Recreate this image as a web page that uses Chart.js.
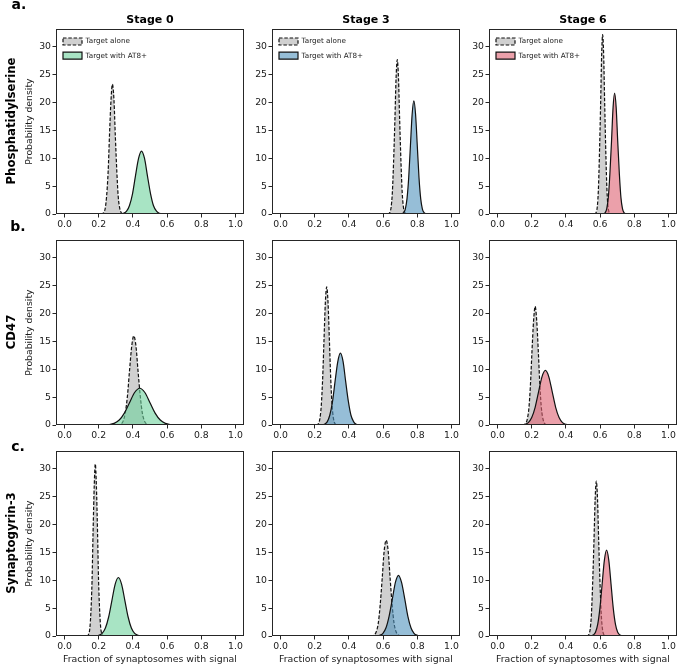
<!DOCTYPE html>
<html><head><meta charset="utf-8">
<script src="https://cdn.jsdelivr.net/npm/chart.js@4.4.0/dist/chart.umd.min.js"></script>
<style>
html,body{margin:0;padding:0;background:#fff;width:677px;height:664px;overflow:hidden;position:relative;font-family:'DejaVu Sans',sans-serif;}
canvas{position:absolute;}
.lbl{position:absolute;white-space:nowrap;color:#000;line-height:1;font-weight:bold;}
</style></head><body>
<script>
// ---- text / categories ----
const panelLetters = ['a.', 'b.', 'c.'];
const targets = ['Phosphatidylserine', 'CD47', 'Synaptogyrin-3'];
const stages = ['Stage 0', 'Stage 3', 'Stage 6'];
const seriesNames = ['Target alone', 'Target with AT8+'];
const yTitle = 'Probability density';
const xTitle = 'Fraction of synaptosomes with signal';
const xTickValues = [0, 0.2, 0.4, 0.6, 0.8, 1.0];
const xTickLabels = ['0.0', '0.2', '0.4', '0.6', '0.8', '1.0'];
const yTickValues = [0, 5, 10, 15, 20, 25, 30];
const yTickLabels = ['0', '5', '10', '15', '20', '25', '30'];

// ---- density curves (x = fraction, y = density) ----
// Phosphatidylserine
const psS0AloneX = [0.212,0.221,0.229,0.238,0.246,0.255,0.263,0.272,0.280,0.289,0.297,0.306,0.314,0.323,0.331,0.340,0.348];
const psS0AloneY = [0,0.05,0.26,1.02,3.15,7.57,14.13,20.56,23.3,20.56,14.13,7.57,3.15,1.02,0.26,0.05,0];
const psS0At8X = [0.310,0.328,0.345,0.363,0.380,0.398,0.415,0.433,0.450,0.468,0.485,0.503,0.520,0.538,0.555,0.573,0.590];
const psS0At8Y = [0,0.02,0.13,0.50,1.53,3.67,6.85,9.97,11.3,9.97,6.85,3.67,1.53,0.50,0.13,0.02,0];
const psS3AloneX = [0.625,0.633,0.640,0.647,0.654,0.661,0.669,0.676,0.683,0.690,0.697,0.705,0.712,0.719,0.726,0.733,0.741];
const psS3AloneY = [0,0.06,0.31,1.22,3.75,8.99,16.80,24.45,27.7,24.45,16.80,8.99,3.75,1.22,0.31,0.06,0];
const psS3At8X = [0.700,0.710,0.720,0.730,0.740,0.750,0.760,0.770,0.780,0.790,0.800,0.810,0.820,0.830,0.840,0.850,0.860];
const psS3At8Y = [0,0.04,0.23,0.89,2.75,6.59,12.31,17.91,20.3,17.91,12.31,6.59,2.75,0.89,0.23,0.04,0];
const psS6AloneX = [0.565,0.572,0.578,0.584,0.590,0.596,0.603,0.609,0.615,0.621,0.627,0.634,0.640,0.646,0.652,0.658,0.665];
const psS6AloneY = [0,0.07,0.36,1.41,4.36,10.46,19.53,28.42,32.2,28.42,19.53,10.46,4.36,1.41,0.36,0.07,0];
const psS6At8X = [0.611,0.621,0.630,0.639,0.648,0.657,0.667,0.676,0.685,0.694,0.703,0.713,0.722,0.731,0.740,0.749,0.759];
const psS6At8Y = [0,0.05,0.24,0.95,2.94,7.05,13.16,19.15,21.7,19.15,13.16,7.05,2.94,0.95,0.24,0.05,0];
// CD47
const cdS0AloneX = [0.305,0.318,0.330,0.343,0.355,0.368,0.380,0.393,0.405,0.418,0.430,0.443,0.455,0.468,0.480,0.493,0.505];
const cdS0AloneY = [0,0.04,0.18,0.70,2.16,5.20,9.70,14.12,16.0,14.12,9.70,5.20,2.16,0.70,0.18,0.04,0];
const cdS0At8X = [0.200,0.230,0.260,0.290,0.320,0.350,0.380,0.410,0.440,0.470,0.500,0.530,0.560,0.590,0.620,0.650,0.680];
const cdS0At8Y = [0,0.01,0.07,0.29,0.89,2.14,4.00,5.83,6.6,5.83,4.00,2.14,0.89,0.29,0.07,0.01,0];
const cdS3AloneX = [0.206,0.214,0.222,0.230,0.238,0.246,0.254,0.262,0.270,0.278,0.286,0.294,0.302,0.310,0.318,0.326,0.334];
const cdS3AloneY = [0,0.06,0.28,1.09,3.36,8.05,15.04,21.89,24.8,21.89,15.04,8.05,3.36,1.09,0.28,0.06,0];
const cdS3At8X = [0.226,0.242,0.257,0.273,0.288,0.304,0.319,0.335,0.350,0.366,0.381,0.397,0.412,0.428,0.443,0.459,0.474];
const cdS3At8Y = [0,0.03,0.14,0.57,1.75,4.19,7.82,11.38,12.9,11.38,7.82,4.19,1.75,0.57,0.14,0.03,0];
const cdS6AloneX = [0.145,0.155,0.164,0.173,0.183,0.192,0.201,0.211,0.220,0.229,0.239,0.248,0.257,0.267,0.276,0.285,0.295];
const cdS6AloneY = [0,0.05,0.24,0.94,2.88,6.92,12.92,18.80,21.3,18.80,12.92,6.92,2.88,0.94,0.24,0.05,0];
const cdS6At8X = [0.120,0.140,0.160,0.180,0.200,0.220,0.240,0.260,0.280,0.300,0.320,0.340,0.360,0.380,0.400,0.420,0.440];
const cdS6At8Y = [0,0.02,0.11,0.43,1.33,3.18,5.94,8.65,9.8,8.65,5.94,3.18,1.33,0.43,0.11,0.02,0];
// Synaptogyrin-3
const synS0AloneX = [0.128,0.135,0.141,0.148,0.154,0.161,0.167,0.174,0.180,0.186,0.193,0.199,0.206,0.212,0.219,0.225,0.232];
const synS0AloneY = [0,0.07,0.34,1.36,4.18,10.03,18.74,27.27,30.9,27.27,18.74,10.03,4.18,1.36,0.34,0.07,0];
const synS0At8X = [0.163,0.182,0.201,0.220,0.239,0.258,0.277,0.296,0.315,0.334,0.353,0.372,0.391,0.410,0.429,0.448,0.467];
const synS0At8Y = [0,0.02,0.12,0.46,1.42,3.41,6.37,9.27,10.5,9.27,6.37,3.41,1.42,0.46,0.12,0.02,0];
const synS3AloneX = [0.525,0.537,0.548,0.560,0.572,0.583,0.595,0.606,0.618,0.630,0.641,0.653,0.664,0.676,0.688,0.699,0.711];
const synS3AloneY = [0,0.04,0.19,0.76,2.33,5.59,10.43,15.18,17.2,15.18,10.43,5.59,2.33,0.76,0.19,0.04,0];
const synS3At8X = [0.544,0.562,0.580,0.599,0.617,0.635,0.654,0.672,0.690,0.708,0.727,0.745,0.763,0.781,0.800,0.818,0.836];
const synS3At8Y = [0,0.02,0.12,0.48,1.48,3.54,6.61,9.62,10.9,9.62,6.61,3.54,1.48,0.48,0.12,0.02,0];
const synS6AloneX = [0.520,0.528,0.535,0.542,0.549,0.556,0.564,0.571,0.578,0.585,0.592,0.600,0.607,0.614,0.621,0.628,0.636];
const synS6AloneY = [0,0.06,0.31,1.22,3.76,9.03,16.86,24.53,27.8,24.53,16.86,9.03,3.76,1.22,0.31,0.06,0];
const synS6At8X = [0.534,0.547,0.560,0.573,0.586,0.599,0.612,0.625,0.638,0.651,0.664,0.677,0.690,0.703,0.716,0.729,0.742];
const synS6At8Y = [0,0.03,0.17,0.68,2.08,5.00,9.34,13.59,15.4,13.59,9.34,5.00,2.08,0.68,0.17,0.03,0];

// grid of panels: [row][col] -> [aloneX, aloneY, at8X, at8Y]
const panels = [
  [[psS0AloneX, psS0AloneY, psS0At8X, psS0At8Y], [psS3AloneX, psS3AloneY, psS3At8X, psS3At8Y], [psS6AloneX, psS6AloneY, psS6At8X, psS6At8Y]],
  [[cdS0AloneX, cdS0AloneY, cdS0At8X, cdS0At8Y], [cdS3AloneX, cdS3AloneY, cdS3At8X, cdS3At8Y], [cdS6AloneX, cdS6AloneY, cdS6At8X, cdS6At8Y]],
  [[synS0AloneX, synS0AloneY, synS0At8X, synS0At8Y], [synS3AloneX, synS3AloneY, synS3At8X, synS3At8Y], [synS6AloneX, synS6AloneY, synS6At8X, synS6At8Y]]
];

// ---- styles ----
const aloneFill = 'rgba(170,170,170,0.55)';
const at8Fills = ['rgba(110,210,157,0.6)', 'rgba(80,147,188,0.6)', 'rgba(222,97,113,0.6)'];
const axisColor = '#262626';
const textColor = '#1a1a1a';
const colL = [56, 272, 489], rowT = [28, 239, 450], AW = 188, AH = 186;
const YW = 44, PT = 6, PR = 3;
const FONT = 'DejaVu Sans';

const boxPlugin = {
  id: 'box',
  afterDraw(chart) {
    const {ctx, chartArea: a} = chart;
    ctx.save();
    ctx.strokeStyle = axisColor;
    ctx.lineWidth = 1;
    ctx.strokeRect(Math.round(a.left) + 0.5, Math.round(a.top) + 0.5,
      Math.round(a.right - a.left) - 1, Math.round(a.bottom - a.top) - 1);
    ctx.restore();
  }
};

function pts(X, Y) { return X.map((x, i) => ({x: x, y: Y[i]})); }

function addLabel(text, x, y, size, rotate) {
  const d = document.createElement('div');
  d.className = 'lbl';
  d.textContent = text;
  d.style.fontSize = size + 'px';
  d.style.left = x + 'px';
  d.style.top = y + 'px';
  d.style.transform = rotate ? 'translate(-50%,-50%) rotate(-90deg)' : 'translate(-50%,-50%)';
  document.body.appendChild(d);
}

function makePanel(r, c) {
  const xh = r === 2 ? 34 : 22;
  const w = YW + AW + PR, h = PT + AH + xh;
  const cv = document.createElement('canvas');
  cv.width = w; cv.height = h;
  cv.style.width = w + 'px'; cv.style.height = h + 'px';
  cv.style.left = (colL[c] - YW) + 'px';
  cv.style.top = (rowT[r] - PT) + 'px';
  document.body.appendChild(cv);
  const p = panels[r][c];
  new Chart(cv, {
    type: 'line',
    data: {
      datasets: [
        {label: seriesNames[0], data: pts(p[0], p[1]), order: 1, borderColor: '#111', borderWidth: 1.2,
         borderDash: [3.5, 1.8], backgroundColor: aloneFill, fill: 'origin', pointRadius: 0,
         cubicInterpolationMode: 'monotone'},
        {label: seriesNames[1], data: pts(p[2], p[3]), order: 0, borderColor: '#111', borderWidth: 1.2,
         backgroundColor: at8Fills[c], fill: 'origin', pointRadius: 0,
         cubicInterpolationMode: 'monotone'}
      ]
    },
    options: {
      responsive: false, animation: false, devicePixelRatio: 1,
      layout: {padding: {left: 0, top: PT, right: PR, bottom: 0}},
      plugins: {
        tooltip: {enabled: false},
        legend: {
          display: r === 0, position: 'chartArea', align: 'start',
          title: {display: true, text: '', padding: {top: 7.7, bottom: 0}, font: {size: 1}},
          labels: {boxWidth: 19, boxHeight: 7, padding: 7, color: textColor,
            font: {family: FONT, size: 7.2},
            sort: (a, b) => a.datasetIndex - b.datasetIndex}
        }
      },
      scales: {
        x: {
          type: 'linear', min: -0.05, max: 1.05,
          afterFit: s => { s.height = xh; },
          afterBuildTicks: s => { s.ticks = xTickValues.map(v => ({value: v})); },
          border: {display: false},
          grid: {display: true, drawOnChartArea: false, drawTicks: true, tickLength: 3.5, color: axisColor},
          ticks: {autoSkip: false, maxRotation: 0, padding: 1.5, color: textColor,
            font: {family: FONT, size: 9.3}, callback: (v, i) => xTickLabels[i]},
          title: {display: r === 2, text: xTitle, color: textColor, font: {family: FONT, size: 9.4},
            padding: {top: 0, bottom: 4.4}}
        },
        y: {
          type: 'linear', min: 0, max: 33.2,
          afterFit: s => { s.width = YW; },
          afterBuildTicks: s => { s.ticks = yTickValues.map(v => ({value: v})); },
          border: {display: false},
          grid: {display: true, drawOnChartArea: false, drawTicks: true, tickLength: 3.5, color: axisColor},
          ticks: {autoSkip: false, padding: 1.5, color: textColor,
            font: {family: FONT, size: 9.3}, callback: (v, i) => yTickLabels[i]},
          title: {display: c === 0, text: yTitle, color: textColor, font: {family: FONT, size: 9.3},
            padding: {top: 12.4, bottom: 0}}
        }
      }
    },
    plugins: [boxPlugin]
  });
}

for (let r = 0; r < 3; r++) for (let c = 0; c < 3; c++) makePanel(r, c);

// titles and labels
for (let c = 0; c < 3; c++) addLabel(stages[c], colL[c] + AW / 2, 19.3, 11, false);
for (let r = 0; r < 3; r++) addLabel(targets[r], 12, rowT[r] + AH / 2, 11.7, true);
const letterPos = [[19, 4], [18, 226], [18, 446]];
for (let r = 0; r < 3; r++) addLabel(panelLetters[r], letterPos[r][0], letterPos[r][1], 14, false);
</script>
</body></html>
